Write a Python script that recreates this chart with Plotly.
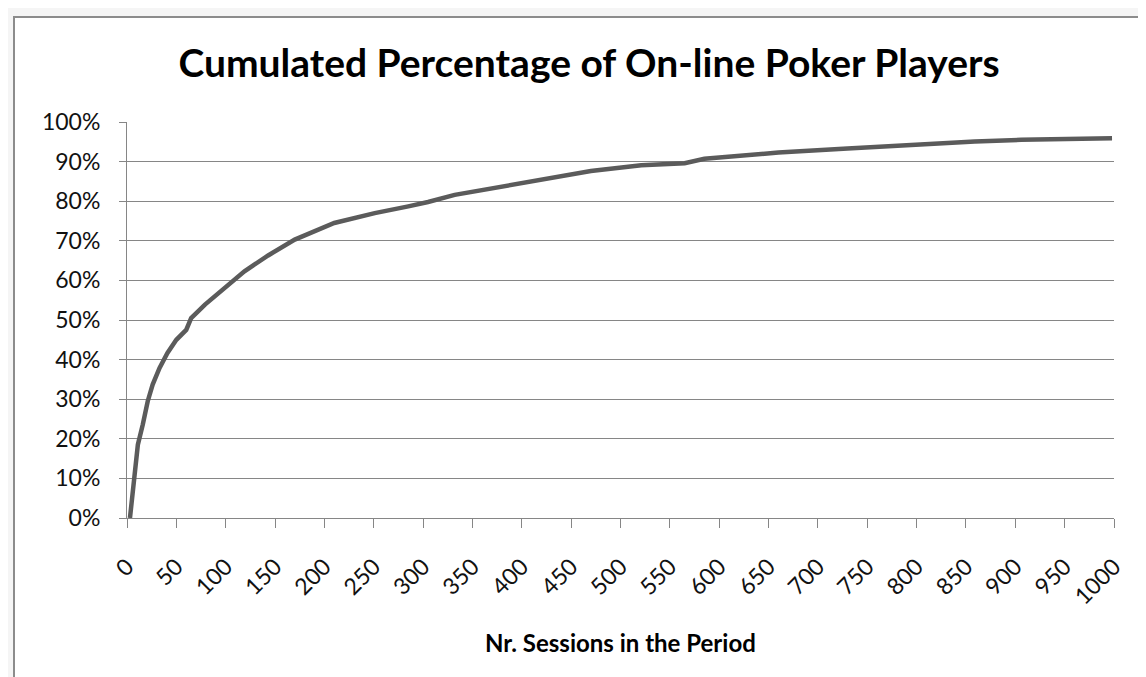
import plotly.graph_objects as go

# Sessions in the period vs cumulated share of players
sesije = [3, 7, 11, 16, 21, 26, 33, 41, 50, 60, 65, 79, 99, 119, 143, 170, 210,
          251, 285, 305, 332, 372, 420, 470, 521, 565, 585, 646, 660, 730, 764,
          815, 859, 906, 957, 998]
delez = [0.0, 0.10, 0.185, 0.236, 0.295, 0.337, 0.379, 0.417, 0.45, 0.475, 0.505,
         0.539, 0.581, 0.623, 0.663, 0.703, 0.745, 0.770, 0.787, 0.798, 0.816,
         0.833, 0.854, 0.876, 0.891, 0.896, 0.907, 0.919, 0.923, 0.933, 0.938,
         0.944, 0.951, 0.955, 0.958, 0.959]

oznakeX = list(range(0, 1001, 50))
oznakeY = [i / 10 for i in range(11)]

naslov = "Cumulated Percentage of On-line Poker Players"
naslovX = "Nr. Sessions in the Period"

pisava = "Lato"
siva = "#868686"

W, H = 1146, 677
levo, desno, zgoraj, spodaj = 119, 1106, 114, 510

fig = go.Figure()
fig.add_trace(go.Scatter(x=sesije, y=delez, mode="lines",
                         line=dict(color="#5b5b5b", width=4.5),
                         hoverinfo="x+y"))

sirina = desno - levo
visina = spodaj - zgoraj

def px2paper(x, y):
    return (x - levo) / sirina, (spodaj - y) / visina

# okvir grafa (kot v Excelu)
x0, y0 = px2paper(6, 9)
x1, y1 = px2paper(1160, 700)
okvir = dict(type="rect", xref="paper", yref="paper", x0=x0, y0=y1, x1=x1, y1=y0,
             fillcolor="white", line=dict(color="#8c8c8c", width=2), layer="below")

fig.update_layout(
    width=W, height=H,
    margin=dict(l=levo, r=W - desno, t=zgoraj, b=H - spodaj),
    paper_bgcolor="#f5f5f5",
    plot_bgcolor="white",
    showlegend=False,
    shapes=[okvir],
    font=dict(family=pisava, color="#111111"),
    title=dict(text="<b>" + naslov + "</b>", x=581 / W, xanchor="center",
               y=1 - 55 / H, yanchor="middle", xref="container", yref="container",
               font=dict(size=39, family=pisava, color="#000000")),
    annotations=[dict(text="<b>" + naslovX + "</b>", xref="paper", yref="paper",
                      x=0.5, y=(spodaj - 634) / visina, xanchor="center",
                      yanchor="middle", showarrow=False,
                      font=dict(size=24, family=pisava, color="#000000"))],
)

fig.update_xaxes(range=[0, 1000], tickvals=oznakeX, ticktext=[str(v) for v in oznakeX],
                 tickangle=-45, ticks="outside", ticklen=9, tickcolor=siva,
                 showline=True, linecolor=siva, linewidth=1, showgrid=False,
                 zeroline=False, tickfont=dict(size=23, family=pisava),
                 ticklabelstandoff=16, fixedrange=True)
fig.update_yaxes(range=[0, 1], tickvals=oznakeY, tickformat=".0%",
                 ticks="outside", ticklen=7, tickcolor=siva,
                 showline=True, linecolor=siva, linewidth=1,
                 showgrid=True, gridcolor=siva, gridwidth=1, zeroline=False,
                 tickfont=dict(size=23, family=pisava),
                 ticklabelstandoff=14, fixedrange=True)

fig.write_html("out.html")
